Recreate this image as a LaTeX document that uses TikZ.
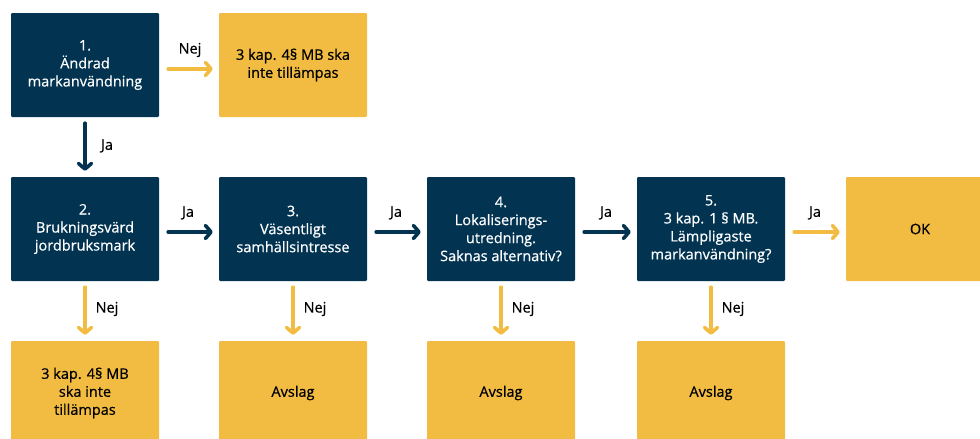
\documentclass[tikz,border=0pt]{standalone}
\usepackage{fontspec}
\setmainfont{Open Sans}[UprightFeatures={FakeBold=0.6}]
\usetikzlibrary{arrows.meta}
\definecolor{navy}{HTML}{023452}
\definecolor{gold}{HTML}{F2BC42}
\tikzset{
  box/.style={rectangle, rounded corners=1.2pt, minimum width=148pt, minimum height=104pt, inner sep=2pt, align=center, font=\fontsize{14.5}{18}\selectfont},
  qbox/.style={box, fill=navy, text=white},
  abox/.style={box, fill=gold, text=black},
  arr/.style={line width=3.6pt, -{Straight Barb[length=5.5pt,width=13pt,line cap=round,line join=round]}, line cap=round},
  jarr/.style={arr, draw=navy},
  narr/.style={arr, draw=gold},
  lbl/.style={font=\fontsize{14.5}{16}\selectfont, text=black, inner sep=0pt}
}
\begin{document}
\begin{tikzpicture}[x=1pt,y=-1pt]
\useasboundingbox (0,0) rectangle (980,439);
\clip (0,0) rectangle (980,439);
\node[qbox] (b1) at (85,65) {1.\\Ändrad\\markanvändning};
\node[abox] (t1) at (293,65) {3 kap. 4§ MB ska\\inte tillämpas};
\node[qbox] (b2) at (85,229) {2.\\Brukningsvärd\\jordbruksmark};
\node[qbox] (b3) at (293,229) {3.\\Väsentligt\\samhällsintresse};
\node[qbox] (b4) at (501,229) {4.\\Lokaliserings-\\utredning.\\Saknas alternativ?};
\node[qbox] (b5) at (711,229) {5.\\3 kap. 1 § MB.\\Lämpligaste\\markanvändning?};
\node[abox] (ok) at (920,229) {OK};
\node[abox] (r2) at (85,393) {3 kap. 4§ MB\\ska inte\\tillämpas};
\node[abox] (r3) at (293,393) {Avslag};
\node[abox] (r4) at (501,393) {Avslag};
\node[abox] (r5) at (711,393) {Avslag};

\draw[narr] ([xshift=9pt,yshift=-4pt]b1.east) -- ([xshift=-6pt,yshift=-4pt]t1.west);
\node[lbl] (l1) at (190,50) {Nej};
\draw[jarr] ([yshift=-6pt]b1.south) -- ([yshift=6pt]b2.north);
\node[lbl] (l2) at (107,146) {Ja};

\draw[jarr] ([xshift=9pt,yshift=-3pt]b2.east) -- ([xshift=-6pt,yshift=-3pt]b3.west);
\node[lbl] (l3) at (188,213) {Ja};
\draw[jarr] ([xshift=9pt,yshift=-3pt]b3.east) -- ([xshift=-6pt,yshift=-3pt]b4.west);
\node[lbl] (l4) at (396,213) {Ja};
\draw[jarr] ([xshift=9pt,yshift=-3pt]b4.east) -- ([xshift=-6pt,yshift=-3pt]b5.west);
\node[lbl] (l5) at (606,213) {Ja};
\draw[narr] ([xshift=9pt,yshift=-3pt]b5.east) -- ([xshift=-6pt,yshift=-3pt]ok.west);
\node[lbl] (l6) at (815,213) {Ja};

\foreach \a/\b/\x in {b2/r2/107, b3/r3/315, b4/r4/523, b5/r5/733}{
  \draw[narr] ([yshift=-6pt]\a.south) -- ([yshift=6pt]\b.north);
  \node[lbl] at (\x,309) {Nej};
}
\end{tikzpicture}
\end{document}
